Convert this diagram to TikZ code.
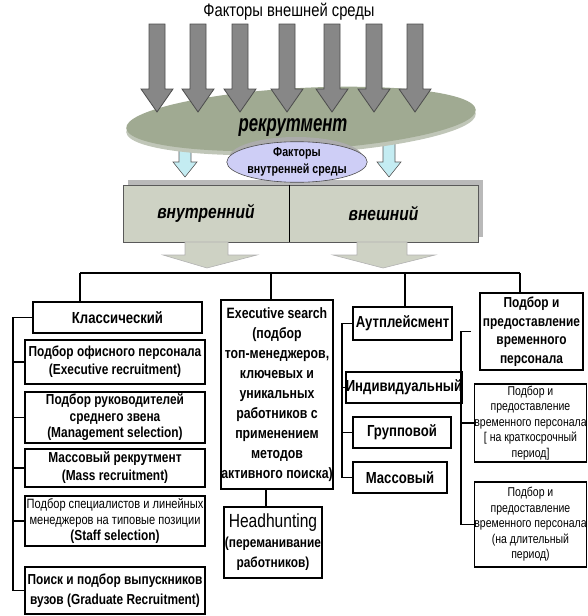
\documentclass[tikz,border=0pt]{standalone}
\usepackage{fontspec}
\setmainfont{Liberation Sans}
\newfontfamily\nar[FakeStretch=0.82]{Liberation Sans}
\newfontfamily\narr[FakeStretch=0.7]{Liberation Sans}
\usetikzlibrary{shapes.geometric}
\definecolor{discc}{RGB}{160,170,146}
\definecolor{discrim}{RGB}{192,198,184}
\definecolor{darr}{RGB}{135,135,135}
\definecolor{boxfill}{RGB}{206,210,196}
\definecolor{lav}{RGB}{206,206,246}
\definecolor{lblue}{RGB}{196,236,242}
\tikzset{
  box/.style={draw=black, line width=1.6pt, fill=white, inner sep=0pt, align=center,
    font=\nar\bfseries\fontsize{14.5}{18}\selectfont},
  thinbox/.style={box, font=\nar\fontsize{12.8}{15.5}\selectfont},
  wire/.style={line width=1.8pt},
  bus/.style={line width=2.6pt},
  bigarrow/.style={fill=darr, draw=black!70, line width=0.8pt},
  bluearrow/.style={fill=lblue, draw=gray!70!black, line width=0.6pt},
  lowarrow/.style={fill=boxfill, draw=gray!60, line width=0.6pt},
  half/.style={fill=boxfill, draw=gray!70!black, line width=0.7pt, inner sep=0pt,
    minimum height=57pt, font=\nar\bfseries\itshape\fontsize{19}{19}\selectfont}
}
\begin{document}
\begin{tikzpicture}[x=1pt,y=-1pt]
\useasboundingbox (0,0) rectangle (588,616);

% title
\node[font=\nar\fontsize{18}{18}\selectfont] (title) at (289,12) {Факторы внешней среды};

% box "внутренний / внешний" with shadow
\fill[gray!55] (128,180) rectangle (483,237);
\node[half, minimum width=166pt] (vin) at (206,213.5) {\raisebox{-3pt}{внутренний}};
\node[half, minimum width=189pt] (vex) at (383.5,213.5) {\raisebox{-3pt}{внешний}};
\draw[line width=0.9pt] (vin.north east) -- (vin.south east);

% arrows below the box
\draw[lowarrow] (185,242) -- (228,242) -- (228,255) -- (257,255) -- (207,268) -- (163,255) -- (185,255) -- cycle;
\draw[lowarrow] (357,242) -- (407,242) -- (407,255) -- (435,255) -- (383,268) -- (333,255) -- (357,255) -- cycle;

% light blue arrows
\foreach \x in {185,389}
  \draw[bluearrow] (\x-6,140) -- (\x+6,140) -- (\x+6,162) -- (\x+12,162) -- (\x,177) -- (\x-12,162) -- (\x-6,162) -- cycle;

% disc
\fill[discrim, rotate around={3:(301,123)}] (301,123) ellipse (175pt and 31pt);
\fill[discc, rotate around={3:(301,119)}] (301,119) ellipse (175pt and 31pt);

% gray arrows
\foreach \x in {157,198,240,287,332,374,415}
  \draw[bigarrow] (\x-8,24) -- (\x+8,24) -- (\x+8,89) -- (\x+16,89) -- (\x,112) -- (\x-16,89) -- (\x-8,89) -- cycle;

\node[font=\narr\bfseries\itshape\fontsize{24}{24}\selectfont] (recr) at (293,128) {рекрутмент};

% inner factors ellipse
\fill[gray!65] (296,158) ellipse (67pt and 21pt);
\node[ellipse, draw=black!70, line width=0.6pt, fill=lav, minimum width=128pt, minimum height=38pt,
  inner sep=0pt, align=center, font=\nar\bfseries\fontsize{13}{17}\selectfont] (inner) at (297,162)
  {Факторы\\внутренней среды};

% bus
\coordinate (busL) at (80,273);
\coordinate (busE) at (271,273);
\coordinate (busA) at (405,273);
\coordinate (busR) at (520,273);

% left column
\node[box, minimum width=169pt, minimum height=31pt, font=\nar\bfseries\fontsize{16}{18}\selectfont] (klass) at (117.5,317.5) {Классический};
\node[box, minimum width=180pt, minimum height=44pt] (office) at (115,362) {Подбор офисного  персонала\\(Executive recruitment)};
\node[box, minimum width=180pt, minimum height=51pt, font=\nar\bfseries\fontsize{14.5}{16.5}\selectfont] (manag) at (115,417.5) {Подбор руководителей\\среднего звена\\(Management selection)};
\node[box, minimum width=180pt, minimum height=38pt] (mass) at (115,468) {Массовый рекрутмент\\(Mass recruitment)};
\node[box, minimum width=180pt, minimum height=50pt, font=\nar\fontsize{13.5}{16}\selectfont] (staff) at (115,521)
  {Подбор специалистов и линейных\\менеджеров на типовые позиции\\\bfseries\fontsize{14.5}{16}\selectfont (Staff selection)};
\node[box, minimum width=180pt, minimum height=47pt, font=\nar\bfseries\fontsize{14.5}{20}\selectfont] (poisk) at (115,590.5) {Поиск и подбор выпускников\\вузов (Graduate Recruitment)};

% middle column
\node[box, minimum width=108pt, minimum height=189pt, font=\nar\bfseries\fontsize{15}{20}\selectfont] (exec) at (277,394.5)
  {Executive search\\(подбор\\топ-менеджеров,\\ключевых и\\уникальных\\работников с\\применением\\методов\\активного поиска)};
\node[box, minimum width=98pt, minimum height=71pt, font=\nar\bfseries\fontsize{14.5}{20}\selectfont] (head) at (273,542.5)
  {\mdseries\fontsize{19}{20}\selectfont Headhunting\\\bfseries\fontsize{14.5}{20}\selectfont (переманивание\\работников)};

% outplacement column
\node[box, minimum width=99pt, minimum height=33pt, font=\nar\bfseries\fontsize{16}{18}\selectfont] (autp) at (402.5,323.5) {Аутплейсмент};
\node[box, minimum width=102pt, minimum height=31pt, font=\nar\bfseries\fontsize{16}{18}\selectfont] (indiv) at (404,387.5) {Индивидуальный};
\node[box, minimum width=98pt, minimum height=31pt, font=\nar\bfseries\fontsize{16}{18}\selectfont] (group) at (402,432.5) {Групповой};
\node[box, minimum width=94pt, minimum height=31pt, font=\nar\bfseries\fontsize{16}{18}\selectfont] (massov) at (400,477.5) {Массовый};

% temporary staff column
\node[box, minimum width=103pt, minimum height=77pt, font=\nar\bfseries\fontsize{14.5}{18.5}\selectfont] (temp1) at (531.5,331.5) {Подбор и\\предоставление\\временного\\персонала};
\node[thinbox, minimum width=111pt, minimum height=78pt] (temp2) at (530.5,423) {Подбор и\\предоставление\\временного персонала\\{[} на краткосрочный\\период{]}};
\node[thinbox, minimum width=111pt, minimum height=85pt] (temp3) at (530.5,524.5) {Подбор и\\предоставление\\временного персонала\\(на длительный\\период)};

% connectors
\draw[bus] (busL) -- (busR);
\draw[wire] (busL) -- (busL |- klass.north);
\draw[wire] (busE) -- (busE |- exec.north);
\draw[wire] (busA) -- (busA |- autp.north);
\draw[wire] (busR) -- (busR |- temp1.north);

\coordinate (bl) at (13,0);
\draw[wire] (klass.west) -- (bl |- klass.west) -- (bl |- poisk.west) -- (poisk.west);
\foreach \n in {office,manag,mass,staff} \draw[wire] (bl |- \n.west) -- (\n.west);

\draw[wire] ([xshift=-7pt]head.north) -- ([xshift=-7pt]head.north |- exec.south);

\coordinate (ba) at (342,0);
\draw[wire] (autp.west) -- (ba |- autp.west) -- (ba |- massov.west) -- (massov.west);
\foreach \n in {indiv,group} \draw[wire] (ba |- \n.west) -- (\n.west);

\coordinate (bt) at (461,0);
\draw[wire] ([xshift=-8pt]temp1.west) -- (bt |- temp1.west) -- (bt |- temp3.west) -- (temp3.west);
\draw[wire] (bt |- temp2.west) -- (temp2.west);
\end{tikzpicture}
\end{document}
